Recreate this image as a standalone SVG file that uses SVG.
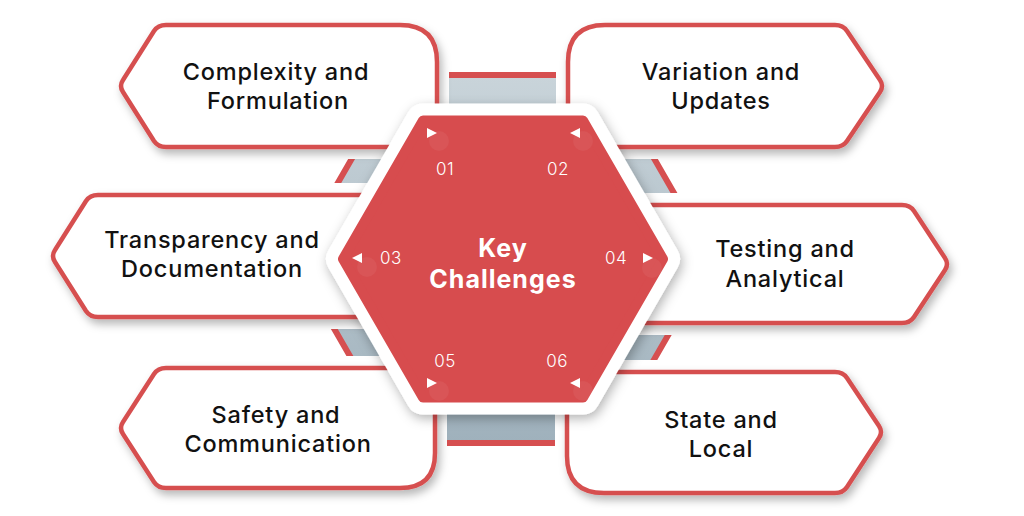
<svg xmlns="http://www.w3.org/2000/svg" width="1024" height="516" viewBox="0 0 1024 516">
  <defs>
    <linearGradient id="steel" x1="0" y1="0" x2="0" y2="1">
      <stop offset="0" stop-color="#c9d4da"/>
      <stop offset="1" stop-color="#9fb1bc"/>
    </linearGradient>
    <filter id="shadow" x="-10%" y="-20%" width="125%" height="150%">
      <feDropShadow dx="3" dy="5" stdDeviation="4" flood-color="#000" flood-opacity="0.28"/>
    </filter>
    <filter id="hexshadow" x="-15%" y="-15%" width="130%" height="130%">
      <feDropShadow dx="2" dy="4" stdDeviation="6" flood-color="#000" flood-opacity="0.3"/>
    </filter>
  </defs>
  <style>
    .under { fill: #ffffff; stroke: #ffffff; stroke-width: 24; stroke-linejoin: round; }
    .card { fill: #ffffff; stroke: #d64f50; stroke-width: 4.5; stroke-linejoin: round; }
    .label { font-family: Inter, "Liberation Sans", sans-serif; font-size: 23.5px; font-weight: 500; fill: #111111; text-anchor: middle; letter-spacing: 0.8px; }
    .num { font-family: Inter, "Liberation Sans", sans-serif; font-size: 17px; font-weight: 300; fill: #ffffff; text-anchor: middle; letter-spacing: 0.5px; }
    .title { font-family: Inter, "Liberation Sans", sans-serif; font-size: 25px; font-weight: 700; fill: #ffffff; text-anchor: middle; letter-spacing: 1px; }
    .tri { fill: #ffffff; }
    .glow { fill: #ffffff; opacity: 0.05; }
  </style>

  <rect width="1024" height="516" fill="#ffffff"/>

  <!-- background steel hexagon frame (connectors) -->
  <g id="connectors">
    <polygon points="294,259 400,75 606,75 712,259 606,443 400,443" fill="url(#steel)" stroke="#d64f50" stroke-width="6" stroke-linejoin="miter"/>
  </g>

  <!-- white underlays masking the frame around cards -->
  <g id="underlays">
    <path class="under" d="M 166,25 H 400 Q 437,25 437,62 V 130 Q 437,147 420,147 H 166 Q 158,147 154,141 L 123,92 Q 119,86 123,80 L 154,31 Q 158,25 166,25 Z"/>
    <path class="under" d="M 605,25 H 835 Q 843,25 847,31 L 880,80 Q 884,86 880,92 L 847,141 Q 843,147 835,147 H 585 Q 568,147 568,130 V 62 Q 568,25 605,25 Z"/>
    <path class="under" d="M 98,195 H 370 V 317 H 98 Q 90,317 86,311 L 55,262 Q 51,256 55,250 L 86,201 Q 90,195 98,195 Z"/>
    <path class="under" d="M 636,205 H 902 Q 910,205 914,211 L 945,258 Q 949,264 945,270 L 914,317 Q 910,323 902,323 H 636 Z"/>
    <path class="under" d="M 166,368 H 420 Q 435,368 435,383 V 453 Q 435,488 400,488 H 166 Q 158,488 154,482 L 123,434 Q 119,428 123,422 L 154,374 Q 158,368 166,368 Z"/>
    <path class="under" d="M 582,372 H 835 Q 843,372 847,378 L 879,426 Q 883,432 879,438 L 847,487 Q 843,493 835,493 H 604 Q 567,493 567,456 V 387 Q 567,372 582,372 Z"/>
  </g>

  <g id="card1" filter="url(#shadow)">
    <path class="card" d="M 166,25 H 400 Q 437,25 437,62 V 130 Q 437,147 420,147 H 166 Q 158,147 154,141 L 123,92 Q 119,86 123,80 L 154,31 Q 158,25 166,25 Z"/>
  </g>
  <g id="card2" filter="url(#shadow)">
    <path class="card" d="M 605,25 H 835 Q 843,25 847,31 L 880,80 Q 884,86 880,92 L 847,141 Q 843,147 835,147 H 585 Q 568,147 568,130 V 62 Q 568,25 605,25 Z"/>
  </g>
  <g id="card3" filter="url(#shadow)">
    <path class="card" d="M 98,195 H 370 V 317 H 98 Q 90,317 86,311 L 55,262 Q 51,256 55,250 L 86,201 Q 90,195 98,195 Z"/>
  </g>
  <g id="card4" filter="url(#shadow)">
    <path class="card" d="M 636,205 H 902 Q 910,205 914,211 L 945,258 Q 949,264 945,270 L 914,317 Q 910,323 902,323 H 636 Z"/>
  </g>
  <g id="card5" filter="url(#shadow)">
    <path class="card" d="M 166,368 H 420 Q 435,368 435,383 V 453 Q 435,488 400,488 H 166 Q 158,488 154,482 L 123,434 Q 119,428 123,422 L 154,374 Q 158,368 166,368 Z"/>
  </g>
  <g id="card6" filter="url(#shadow)">
    <path class="card" d="M 582,372 H 835 Q 843,372 847,378 L 879,426 Q 883,432 879,438 L 847,487 Q 843,493 835,493 H 604 Q 567,493 567,456 V 387 Q 567,372 582,372 Z"/>
  </g>

  <!-- central hexagon -->
  <g id="hub">
    <polygon points="663,259 583,120.4 423,120.4 343,259 423,397.6 583,397.6" fill="#ffffff" stroke="#ffffff" stroke-width="34" stroke-linejoin="round" filter="url(#hexshadow)"/>
    <polygon points="663,259 583,120.4 423,120.4 343,259 423,397.6 583,397.6" fill="#d74c4e" stroke="#d74c4e" stroke-width="10" stroke-linejoin="round"/>
    <circle class="glow" cx="439" cy="141" r="10"/>
    <circle class="glow" cx="583" cy="141" r="10"/>
    <circle class="glow" cx="367" cy="267" r="10"/>
    <circle class="glow" cx="652" cy="268" r="10"/>
    <circle class="glow" cx="439" cy="391" r="10"/>
    <circle class="glow" cx="583" cy="391" r="10"/>
    <polygon class="tri" points="427,128 437,133 427,138"/>
    <polygon class="tri" points="580,128 570,133 580,138"/>
    <polygon class="tri" points="362,253 352,258 362,263"/>
    <polygon class="tri" points="643,253 653,258 643,263"/>
    <polygon class="tri" points="427,378 437,383 427,388"/>
    <polygon class="tri" points="580,378 570,383 580,388"/>
    <text class="num" x="445" y="175">01</text>
    <text class="num" x="558" y="175">02</text>
    <text class="num" x="391" y="264">03</text>
    <text class="num" x="616" y="264">04</text>
    <text class="num" x="445" y="367">05</text>
    <text class="num" x="557" y="367">06</text>
    <text class="title" x="503" y="257">Key</text>
    <text class="title" x="503" y="288">Challenges</text>
  </g>

  <g id="labels">
    <text class="label" x="276" y="80">Complexity and</text>
    <text class="label" x="278" y="109">Formulation</text>
    <text class="label" x="721" y="80">Variation and</text>
    <text class="label" x="721" y="109">Updates</text>
    <text class="label" x="212" y="248">Transparency and</text>
    <text class="label" x="212" y="277">Documentation</text>
    <text class="label" x="785" y="257">Testing and</text>
    <text class="label" x="785" y="287">Analytical</text>
    <text class="label" x="276" y="423">Safety and</text>
    <text class="label" x="278" y="452">Communication</text>
    <text class="label" x="721" y="428">State and</text>
    <text class="label" x="721" y="457">Local</text>
  </g>
</svg>
